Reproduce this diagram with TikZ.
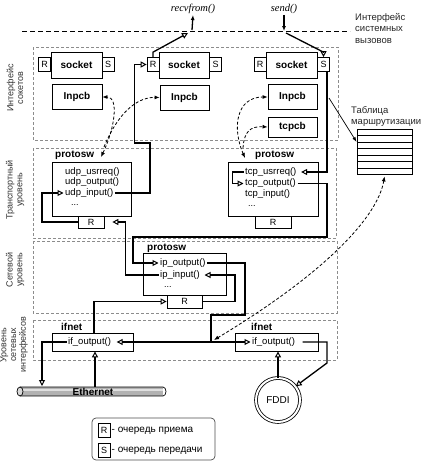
\documentclass[tikz,border=0pt]{standalone}
\usepackage{fontspec}
\setmainfont{Liberation Sans}
\newfontfamily\serifit{Liberation Serif}
\usetikzlibrary{arrows.meta,calc}
\begin{document}
\begin{tikzpicture}[x=1pt,y=-1pt,
  lay/.style={draw=black!45, line width=0.6pt, dash pattern=on 3pt off 2pt},
  bx/.style={draw, line width=0.8pt, fill=white, inner sep=0pt, font=\fontsize{10}{12}\selectfont\bfseries},
  qb/.style={draw, line width=0.7pt, fill=white, inner sep=0pt, minimum width=12pt, minimum height=14pt, font=\fontsize{9}{10}\selectfont},
  fn/.style={anchor=west, inner sep=1.5pt, font=\fontsize{9.5}{11}\selectfont},
  dots/.style={anchor=west, inner sep=0pt, font=\fontsize{9}{10}\selectfont},
  ttl/.style={anchor=west, inner sep=0pt, font=\fontsize{10}{12}\selectfont\bfseries},
  side/.style={rotate=90, align=center, inner sep=0pt, text=black!80, font=\fontsize{9}{9.8}\selectfont},
  note/.style={anchor=north west, align=left, inner sep=0pt, text=black!85, font=\fontsize{9.5}{11.5}\selectfont},
  flow/.style={line width=1.3pt, line join=miter},
  ot/.style={-{Triangle[open,length=6pt,width=6pt,line width=1pt]}},
  fa/.style={-{Latex[length=5pt,width=4pt]}},
  dsh/.style={line width=0.8pt, dash pattern=on 3pt off 2pt},
  dtip/.style={{Latex[length=5pt,width=4pt]}-{Latex[length=5pt,width=4pt]}},
  ]
\useasboundingbox (0,0) rectangle (425,463);

% ---- layers
\draw[lay] (33,47) rectangle (338,140);
\draw[lay] (33,148) rectangle (336,238);
\draw[lay] (33,241) rectangle (337,313);
\draw[lay] (33,320) rectangle (337,360);

\node[side] at (15,88) {Интерфейс\\сокетов};
\node[side] at (15,190) {Транспортный\\уровень};
\node[side] at (15,270) {Сетевой\\уровень};
\node[side] at (14,345) {Уровень\\сетевых\\интерфейсов};

% ---- system call interface
\draw[line width=0.9pt, dash pattern=on 5pt off 3pt] (22,31) -- (350,31);
\node[note] at (355,13) {Интерфейс\\системных\\вызовов};
\node[inner sep=1pt, font=\fontsize{10.5}{12}\selectfont\serifit\itshape] (recv) at (193,9) {recvfrom()};
\node[inner sep=1pt, font=\fontsize{10.5}{12}\selectfont\serifit\itshape] (send) at (284,9) {send()};

% ---- sockets
\node[bx, minimum width=51pt, minimum height=26pt] (s1) at (76.5,65) {socket};
\node[qb] (s1r) at (44.5,64.5) {R};
\node[qb] (s1s) at (108,64.5) {S};
\node[bx, minimum width=50pt, minimum height=25pt] (inp1) at (77,97) {Inpcb};

\node[bx, minimum width=50pt, minimum height=26pt] (s2) at (184,65) {socket};
\node[qb] (s2r) at (153,64.5) {R};
\node[qb] (s2s) at (215.5,64.5) {S};
\node[bx, minimum width=49pt, minimum height=25pt] (inp2) at (184.5,97.5) {Inpcb};

\node[bx, minimum width=51pt, minimum height=26pt] (s3) at (291.5,65) {socket};
\node[qb] (s3r) at (260,64.5) {R};
\node[qb] (s3s) at (323.5,64.5) {S};
\node[bx, minimum width=49pt, minimum height=25pt] (inp3) at (292.5,97) {Inpcb};
\node[bx, minimum width=49pt, minimum height=20pt] (tcpcb) at (292.5,127) {tcpcb};

% ---- routing table
\node[note] at (351,106) {Таблица\\маршрутизации};
\node[draw, line width=0.8pt, minimum width=55pt, minimum height=45pt, inner sep=0pt] (rt) at (384.5,151.5) {};
\foreach \yy in {135.5,142,148.5,155,161.5,168}
  \draw[line width=0.7pt] (357,\yy) -- (412,\yy);
\draw[line width=0.7pt, -{Latex[length=5pt,width=3.5pt]}] (329,98) -- ($(rt.west)+(0,-9.5)$);

% ---- transport layer
\node[ttl] (udpt) at (55,155) {protosw};
\node[bx, minimum width=79pt, minimum height=54pt] (udp) at (91.5,189) {};
\node[fn] (uusr) at (63.5,172.5) {udp\_usrreq()};
\node[fn] (uout) at (63.5,182.5) {udp\_output()};
\node[fn] (uin) at (63.5,193) {udp\_input()};
\node[dots] at (71,205) {...};
\node[qb, minimum width=26pt, minimum height=12pt] (udpR) at (91,222) {R};

\node[ttl] (tcpt) at (255,155) {protosw};
\node[bx, minimum width=90pt, minimum height=54pt] (tcp) at (273,189) {};
\node[fn] (tusr) at (243.5,172) {tcp\_usrreq()};
\node[fn] (tout) at (243.5,183.5) {tcp\_output()};
\node[fn] (tin) at (243.5,194.5) {tcp\_input()};
\node[dots] at (248,206) {...};
\node[qb, minimum width=36pt, minimum height=12pt] (tcpR) at (273,222) {R};

% ---- network layer
\node[ttl] (ipt) at (147,248) {protosw};
\node[bx, minimum width=83pt, minimum height=42pt] (ip) at (184.5,274) {};
\node[fn] (ipout) at (158.5,263) {ip\_output()};
\node[fn] (ipin) at (158.5,275) {ip\_input()};
\node[dots] at (164,287) {...};
\node[qb, minimum width=35pt, minimum height=13pt] (ipR) at (184.5,301.5) {R};

% ---- interface layer
\node[ttl] at (61,327) {ifnet};
\node[bx, minimum width=81pt, minimum height=18pt] (ifn1) at (92.5,342) {};
\node[fn] (ifo1) at (66.5,342) {if\_output()};
\node[ttl] at (251,327) {ifnet};
\node[bx, minimum width=83pt, minimum height=18pt] (ifn2) at (276.5,342) {};
\node[fn] (ifo2) at (250.5,342) {if\_output()};

% ---- Ethernet and FDDI
\fill[black!30] (20,387) rectangle (163,396);
\fill[black!12] (20,389) rectangle (163,390.5);
\draw[line width=0.7pt] (20,387) -- (163,387) arc(-90:90:3 and 4.5) -- (20,396);
\draw[line width=0.7pt, fill=black!15] (20,391.5) ellipse (3 and 4.5);
\node[inner sep=0pt, font=\fontsize{10}{12}\selectfont\bfseries] (eth) at (93,391.5) {Ethernet};
\coordinate (ethA) at (42,386);
\coordinate (ethB) at (95,387);
\node[draw, circle, line width=0.8pt, double, double distance=2pt, minimum size=44pt, inner sep=0pt, font=\fontsize{10}{12}\selectfont] (fddi) at (278,400) {FDDI};

% ---- legend
\node[draw=black!70, line width=0.7pt, rounded corners=4pt, minimum width=123pt, minimum height=42pt] (leg) at (153.5,439) {};
\node[qb] (lr) at (104,430.5) {R};
\node[anchor=west, inner sep=1pt, font=\fontsize{10}{12}\selectfont] at (110.5,431) {- очередь приема};
\node[qb] (ls) at (104,450) {S};
\node[anchor=west, inner sep=1pt, font=\fontsize{10}{12}\selectfont] at (110.5,450.5) {- очередь передачи};

% ---- flows
\coordinate (rc) at (188,33);
\coordinate (rcu) at (192,30);
\draw[flow,ot] (s2r.north) -- ++(0,-5) -- (rc);
\draw[flow,fa] (rcu) -- (recv.south);
\coordinate (sdu) at (284,31);
\coordinate (sdd) at (286,33);
\draw[flow,fa] (send.south) -- (sdu);
\draw[flow,ot] (sdd) -- ($(s3s.north)+(0,-5)$) -- (s3s.north);

\draw[flow,ot] ($(s3s.south)+(3.5,0)$) |- ($(tusr.east)+(3,0)$);
\draw[flow,ot] (tusr.west) -- ++(-11,0) |- (tout.west);
\coordinate (bus) at (327,237);
\coordinate (bus2) at (133,237);
\draw[flow,ot] (tout.east) -| (bus) -- (bus2) |- (ipout.west);

\coordinate (c6) at (245,315);
\coordinate (jn) at (211,342);
\draw[flow] (ipout.east) -| (c6) -| (jn);
\draw[flow,ot] (jn) -- ($(ifo1.east)+(4,0)$);
\draw[flow,ot] (jn) -- (ifo2.west);

\coordinate (c7) at (235,275);
\draw[flow,ot] (ipR.east) -| (c7) -- ($(ipin.east)+(3,0)$);
\draw[flow,ot] (ipin.west) -| ($(udpR.east)+(21,0)$) -- ($(udpR.east)+(8,0)$);
\coordinate (c9) at (42,222);
\draw[flow,ot] (udpR.west) -- (c9) |- (uin.west);
\coordinate (c10) at (150,143);
\draw[flow,ot] (uin.east) -| (c10) -| ($(s2r.west)+(-12,0)$) -- (s2r.west);

\draw[flow,ot] ($(ifn1.north)+(1.5,0)$) |- (ipR.west);
\draw[flow,ot] (ifo1.west) -| (ethA);
\draw[flow,ot] (ethB) -- (ethB |- ifn1.south);
\draw[flow,ot] (fddi.north) -- (fddi.north |- ifn2.south);
\coordinate (c15) at (327,363);
\draw[flow,ot] ($(ifo2.east)+(6,0)$) -| (c15) -- (fddi.38);

% ---- dashed references
\draw[dsh,dtip] (101,157) .. controls (115,128) and (119,97) .. (inp1.east);
\draw[dsh,fa] (104,147) .. controls (114,122) and (132,97) .. (inp2.west);
\draw[dsh,dtip] (245,158) .. controls (232,128) and (236,97) .. (inp3.west);
\draw[dsh,fa] (243,148) .. controls (244,132) and (250,126) .. (tcpcb.west);
\draw[dsh,dtip] ($(rt.south)+(0,2)$) .. controls (378,215) and (330,270) .. ($(jn)+(3,-2)$);
\end{tikzpicture}
\end{document}
